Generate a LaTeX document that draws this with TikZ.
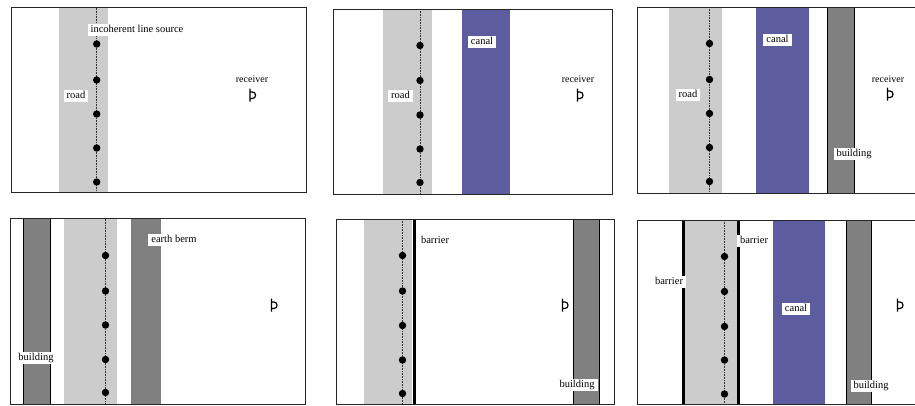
\documentclass[tikz,border=0pt]{standalone}
\usepackage{fontspec}
\setmainfont{Liberation Serif}
\definecolor{canalc}{RGB}{92,92,158}
\definecolor{roadc}{RGB}{204,204,204}
\definecolor{bldc}{RGB}{128,128,128}
\begin{document}
\begin{tikzpicture}[x=1pt,y=-1pt,
  frame/.style={draw=black!85,line width=0.9pt},
  road/.style={fill=roadc},
  canal/.style={fill=canalc},
  bld/.style={fill=bldc,draw=black,line width=0.9pt},
  berm/.style={fill=bldc},
  barrier/.style={line width=3pt,black},
  src/.style={densely dotted,line width=0.6pt,black!80},
  dot/.style={circle,fill=black,inner sep=0pt,minimum size=7.4pt},
  lbl/.style={fill=white,inner xsep=3pt,inner ysep=1.5pt,font=\fontsize{10.5}{12}\selectfont,text height=7pt,text depth=2pt},
  rlbl/.style={inner sep=1pt,font=\fontsize{10}{11}\selectfont,text height=7pt,text depth=2pt},
  rcvr/.pic={\draw[line width=1.2pt] (-2.5,-6.5) -- (-2.5,6.5) (-2.5,-3) -- (0,-3) .. controls (4,-3) and (4,3.5) .. (0,3.5) -- (-2.5,3.5);}
]
\clip (0,0) rectangle (915,405);
\fill[white] (0,0) rectangle (915,405);

% ---------- panel 1 ----------
\fill[road] (59,7.5) rectangle (108,192.5);
\coordinate (s1t) at (96.7,7.5); \coordinate (s1b) at (96.7,192.5);
\draw[src] (s1t) -- (s1b);
\foreach \y [count=\i] in {44,80,114,148,182} \node[dot] (a\i) at (96.7,\y) {};
\draw[frame] (11,7.5) rectangle (306,192.5);
\node[lbl] (a-src) at (137,29.5) {incoherent line source};
\node[lbl] (a-road) at (76,95.5) {road};
\node[rlbl] (a-rec) at (252,80) {receiver};
\pic (a-r) at (252.5,95) {rcvr};

% ---------- panel 2 ----------
\fill[road] (382.7,9) rectangle (432.3,194);
\fill[canal] (462.3,9) rectangle (510.3,194);
\coordinate (s2t) at (420,9); \coordinate (s2b) at (420,194);
\draw[src] (s2t) -- (s2b);
\foreach \y [count=\i] in {45.5,80.5,115,149,182.5} \node[dot] (b\i) at (420,\y) {};
\draw[frame] (333.5,9) rectangle (612.5,194);
\node[lbl] (b-canal) at (482,41.5) {canal};
\node[lbl] (b-road) at (400.5,96) {road};
\node[rlbl] (b-rec) at (578,80) {receiver};
\pic (b-r) at (580,95) {rcvr};

% ---------- panel 3 ----------
\fill[road] (669.3,7) rectangle (722.3,193);
\fill[canal] (756,7) rectangle (809.3,193);
\draw[bld] (827.3,7) rectangle (854.3,193);
\coordinate (s3t) at (709.5,7); \coordinate (s3b) at (709.5,193);
\draw[src] (s3t) -- (s3b);
\foreach \y [count=\i] in {43.5,79.5,113.5,147.5,181.5} \node[dot] (c\i) at (709.5,\y) {};
\draw[frame] (637.5,7) rectangle (930,193);
\node[lbl] (c-canal) at (777.5,39.5) {canal};
\node[lbl] (c-road) at (688,95) {road};
\node[lbl] (c-bld) at (854,153.5) {building};
\node[rlbl] (c-rec) at (888,80) {receiver};
\pic (c-r) at (890,94) {rcvr};

% ---------- panel 4 ----------
\draw[bld] (23.3,218.5) rectangle (50.7,404);
\fill[road] (64,218.5) rectangle (117.3,404);
\fill[berm] (131,218.5) rectangle (160.7,404);
\coordinate (s4t) at (105.5,218.5); \coordinate (s4b) at (105.5,404);
\draw[src] (s4t) -- (s4b);
\foreach \y [count=\i] in {255.5,291,325,359.5,392.5} \node[dot] (d\i) at (105.5,\y) {};
\draw[frame] (10,218.5) rectangle (305,404);
\node[lbl] (d-berm) at (174,239.5) {earth berm};
\node[lbl] (d-bld) at (36,358) {building};
\pic (d-r) at (274,305) {rcvr};

% ---------- panel 5 ----------
\fill[road] (364,219) rectangle (412.3,404);
\coordinate (e-bt) at (414.3,219); \coordinate (e-bb) at (414.3,404);
\draw[barrier] (e-bt) -- (e-bb);
\draw[bld] (573.3,219) rectangle (599,404);
\coordinate (s5t) at (402.5,219); \coordinate (s5b) at (402.5,404);
\draw[src] (s5t) -- (s5b);
\foreach \y [count=\i] in {255.5,291,325.5,360,393.5} \node[dot] (e\i) at (402.5,\y) {};
\draw[frame] (336,219) rectangle (614.5,404);
\node[lbl] (e-bar) at (435,241) {barrier};
\node[lbl] (e-bld) at (577,385) {building};
\pic (e-r) at (565,305) {rcvr};

% ---------- panel 6 ----------
\fill[road] (684,220) rectangle (737.5,404);
\coordinate (f-b1t) at (683,220); \coordinate (f-b1b) at (683,404);
\coordinate (f-b2t) at (738,220); \coordinate (f-b2b) at (738,404);
\draw[barrier] (f-b1t) -- (f-b1b);
\draw[barrier] (f-b2t) -- (f-b2b);
\fill[canal] (772.5,220) rectangle (825,404);
\draw[bld] (846.5,220) rectangle (871.5,404);
\coordinate (s6t) at (724.5,220); \coordinate (s6b) at (724.5,404);
\draw[src] (s6t) -- (s6b);
\foreach \y [count=\i] in {256.5,291.5,326.5,360,394} \node[dot] (f\i) at (724.5,\y) {};
\draw[frame] (637.5,220) rectangle (930,404);
\node[lbl] (f-bar1) at (754,241) {barrier};
\node[lbl] (f-bar2) at (669,282) {barrier};
\node[lbl] (f-canal) at (796,309) {canal};
\node[lbl] (f-bld) at (871,386) {building};
\pic (f-r) at (900,305) {rcvr};
\end{tikzpicture}
\end{document}
